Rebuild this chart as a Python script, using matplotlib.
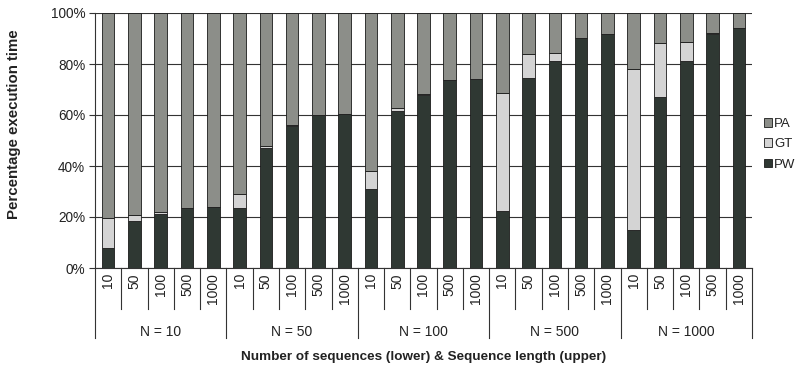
import numpy as np
import matplotlib
matplotlib.use("Agg")
import matplotlib.pyplot as plt
from matplotlib.patches import Patch

plt.rcParams['font.family'] = ['Liberation Sans', 'DejaVu Sans']

groups = ['N = 10', 'N = 50', 'N = 100', 'N = 500', 'N = 1000']
lengths = ['10', '50', '100', '500', '1000']

# percent of execution time (PW bottom, GT middle, PA rest)
pw = [8.0, 18.5, 21.1, 23.4, 24.0,
      23.4, 47.0, 55.6, 59.9, 60.5,
      31.0, 61.4, 67.9, 73.7, 74.3,
      22.3, 74.5, 81.2, 90.1, 91.8,
      14.8, 66.9, 81.2, 91.8, 94.0]
gt = [11.6, 2.4, 0.9, 0.0, 0.0,
      5.6, 1.0, 0.3, 0.0, 0.0,
      7.2, 1.2, 0.3, 0.0, 0.0,
      46.3, 9.5, 3.0, 0.0, 0.0,
      63.2, 21.3, 7.5, 0.3, 0.0]
pa = [100 - a - b for a, b in zip(pw, gt)]

c_pw = '#2f3833'
c_gt = '#d4d4d4'
c_pa = '#8c8e89'

fig = plt.figure(figsize=(8.02, 3.65), dpi=100)
ax = fig.add_axes([95 / 802, 97 / 365, 657 / 802, 255 / 365])

x = np.arange(len(pw))
w = 0.48
ax.bar(x, pw, w, color=c_pw, edgecolor='#1a1a1a', linewidth=0.6, zorder=3)
ax.bar(x, gt, w, bottom=pw, color=c_gt, edgecolor='#1a1a1a', linewidth=0.6, zorder=3)
ax.bar(x, pa, w, bottom=np.array(pw) + np.array(gt), color=c_pa,
       edgecolor='#1a1a1a', linewidth=0.6, zorder=3)

ax.set_xlim(-0.5, len(pw) - 0.5)
ax.set_ylim(0, 100)
ax.set_yticks(range(0, 101, 20))
ax.set_yticklabels([f'{v}%' for v in range(0, 101, 20)], fontsize=9.8, color='#222222')
ax.yaxis.grid(True, color='#333333', linewidth=0.8, zorder=0)
ax.tick_params(axis='y', length=4, width=0.8, color='#333333', pad=3)
ax.set_xticks([])
for s in ['top', 'right']:
    ax.spines[s].set_visible(False)
ax.spines['left'].set_color('#333333')
ax.spines['bottom'].set_color('#333333')

# two-level category axis
tr = ax.get_xaxis_transform()
for i in range(len(pw) + 1):
    bottom = -0.275 if i % 5 == 0 else -0.161
    ax.plot([i - 0.5, i - 0.5], [0, bottom], transform=tr, color='#333333',
            linewidth=0.8, clip_on=False)
for i in range(len(pw)):
    ax.text(i, -0.02, lengths[i % 5], transform=tr, rotation=90, ha='center',
            va='top', fontsize=10, color='#222222')
for g, name in enumerate(groups):
    ax.text(g * 5 + 2, -0.251, name, transform=tr, ha='center', va='center',
            fontsize=10, color='#222222')

ax.text(12, -0.35, 'Number of sequences (lower) & Sequence length (upper)',
        transform=tr, ha='center', va='center', fontsize=9.7,
        fontweight='bold', color='#222222')
fig.text(14 / 802, 1 - 124 / 365, 'Percentage execution time', rotation=90,
         ha='center', va='center', fontsize=10.8, fontweight='bold', color='#222222')

handles = [Patch(facecolor=c_pa, edgecolor='#1a1a1a', linewidth=0.6, label='PA'),
           Patch(facecolor=c_gt, edgecolor='#1a1a1a', linewidth=0.6, label='GT'),
           Patch(facecolor=c_pw, edgecolor='#1a1a1a', linewidth=0.6, label='PW')]
fig.legend(handles=handles, loc='upper left', bbox_to_anchor=(764 / 802, 1 - 118 / 365),
           frameon=False, fontsize=9.5, handlelength=0.6, handleheight=0.6,
           handletextpad=0.15, labelspacing=0.63, borderaxespad=0, borderpad=0,
           labelcolor='#222222')

fig.savefig('out.png', dpi=100)
